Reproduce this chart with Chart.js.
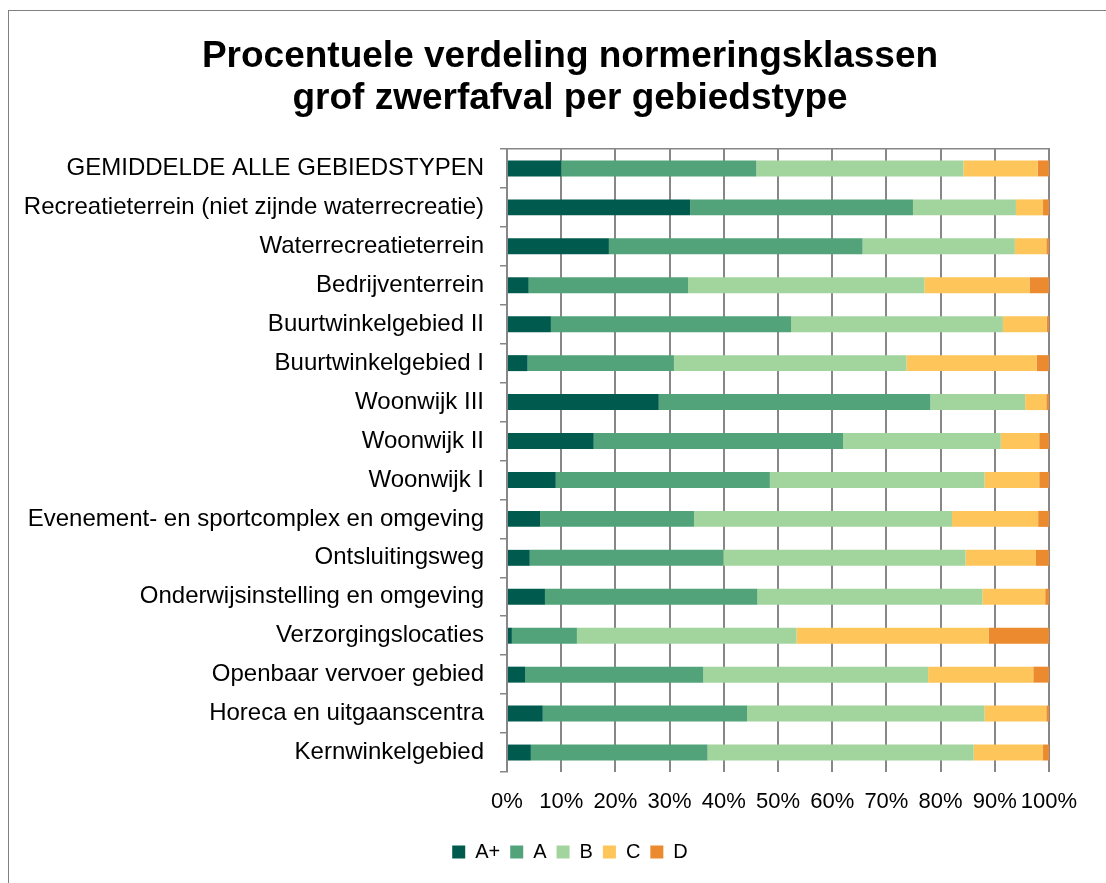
<!DOCTYPE html>
<html>
<head>
<meta charset="utf-8">
<script src="https://cdn.jsdelivr.net/npm/chart.js@4.4.1/dist/chart.umd.min.js"></script>
<style>
html,body{margin:0;padding:0;background:#fff;overflow:hidden;width:1106px;height:883px}
#frame{position:absolute;left:8px;top:10px;width:1200px;height:1000px;border:1.5px solid #808080;box-sizing:border-box}
#wrap{position:absolute;left:0;top:0;width:1140px;height:883px}
</style>
</head>
<body>
<div id="frame"></div>
<div id="wrap"><canvas id="c"></canvas></div>
<script>
const categories = [
  'GEMIDDELDE ALLE GEBIEDSTYPEN',
  'Recreatieterrein (niet zijnde waterrecreatie)',
  'Waterrecreatieterrein',
  'Bedrijventerrein',
  'Buurtwinkelgebied II',
  'Buurtwinkelgebied I',
  'Woonwijk III',
  'Woonwijk II',
  'Woonwijk I',
  'Evenement- en sportcomplex en omgeving',
  'Ontsluitingsweg',
  'Onderwijsinstelling en omgeving',
  'Verzorgingslocaties',
  'Openbaar vervoer gebied',
  'Horeca en uitgaanscentra',
  'Kernwinkelgebied'
];
const seriesNames = ['A+', 'A', 'B', 'C', 'D'];
const valuesAPlus = [10.0, 33.8, 18.8, 4.0, 8.1, 3.8, 28.0, 16.0, 9.0, 6.1, 4.2, 7.0, 0.9, 3.4, 6.6, 4.4];
const valuesA     = [36.0, 41.1, 46.8, 29.4, 44.3, 27.0, 50.1, 46.0, 39.5, 28.4, 35.7, 39.2, 12.0, 32.8, 37.7, 32.6];
const valuesB     = [38.2, 19.0, 28.1, 43.6, 39.1, 42.9, 17.5, 29.1, 39.6, 47.6, 44.7, 41.5, 40.5, 41.5, 43.8, 49.1];
const valuesC     = [13.7,  5.0,  5.8, 19.4,  8.1, 24.0,  3.9,  7.1, 10.1, 15.9, 13.0, 11.6, 35.5, 19.4, 11.4, 12.8];
const valuesD     = [ 2.1,  1.1,  0.5,  3.6,  0.4,  2.3,  0.5,  1.8,  1.8,  2.0,  2.4,  0.7, 11.1,  2.9,  0.5,  1.1];
const xTicks = [0, 10, 20, 30, 40, 50, 60, 70, 80, 90, 100];
const titleLines = ['Procentuele verdeling normeringsklassen', 'grof zwerfafval per gebiedstype'];

const colors = ['#005b4e', '#52a37a', '#a2d49d', '#fec65a', '#eb8a2e'];
const allValues = [valuesAPlus, valuesA, valuesB, valuesC, valuesD];
const FONT = '"Liberation Sans", Arial, Helvetica, sans-serif';
const GRID = '#878787';

const datasets = seriesNames.map((name, i) => ({
  label: name,
  data: allValues[i],
  backgroundColor: colors[i],
  borderWidth: 0,
  barPercentage: 0.41,
  categoryPercentage: 1.0,
  xAxisID: 'x',
  yAxisID: 'y'
}));

new Chart(document.getElementById('c'), {
  type: 'bar',
  data: { labels: categories, datasets },
  options: {
    indexAxis: 'y',
    responsive: true,
    maintainAspectRatio: false,
    animation: false,
    devicePixelRatio: 1,
    layout: { padding: { left: 0, right: 0, top: 0, bottom: 11 } },
    plugins: {
      title: {
        display: true,
        text: titleLines,
        color: '#000',
        font: { family: FONT, size: 37, weight: 'bold', lineHeight: 1.14 },
        padding: { top: 36, bottom: 28.6 }
      },
      legend: {
        position: 'bottom',
        labels: {
          color: '#000',
          font: { family: FONT, size: 20 },
          boxWidth: 13,
          boxHeight: 13,
          padding: 10
        }
      },
      tooltip: { enabled: false }
    },
    scales: {
      x: {
        type: 'linear',
        position: 'bottom',
        stacked: true,
        min: 0,
        max: 100,
        afterBuildTicks: (s) => { s.ticks = xTicks.map(v => ({ value: v })); },
        afterFit: (s) => { s.paddingLeft = 0; s.paddingRight = 0; },
        ticks: {
          color: '#000',
          font: { family: FONT, size: 22 },
          padding: 16.8,
          maxRotation: 0,
          autoSkip: false,
          callback: (v) => v + '%'
        },
        grid: { color: GRID, lineWidth: 2, drawTicks: false },
        border: { display: false }
      },
      xTop: {
        type: 'linear',
        position: 'top',
        min: 0,
        max: 100,
        ticks: { display: false },
        grid: { display: false, drawTicks: false },
        border: { display: true, color: GRID, width: 1.5 },
        afterFit: (s) => { s.height = 0; s.paddingLeft = 0; s.paddingRight = 0; }
      },
      y: {
        type: 'category',
        position: 'left',
        stacked: true,
        afterFit: (s) => { s.width = 507; },
        ticks: {
          color: '#000',
          font: { family: FONT, size: 24 },
          padding: 16,
          autoSkip: false
        },
        grid: { offset: true, drawOnChartArea: false, drawTicks: true, tickLength: 7, color: GRID, lineWidth: 1.5 },
        border: { display: true, color: GRID, width: 2 }
      },
      yR: {
        type: 'linear',
        axis: 'y',
        position: 'right',
        display: true,
        ticks: { display: false },
        grid: { display: false, drawTicks: false },
        border: { display: false },
        afterFit: (s) => { s.width = 91; }
      }
    }
  }
});
</script>
</body>
</html>
